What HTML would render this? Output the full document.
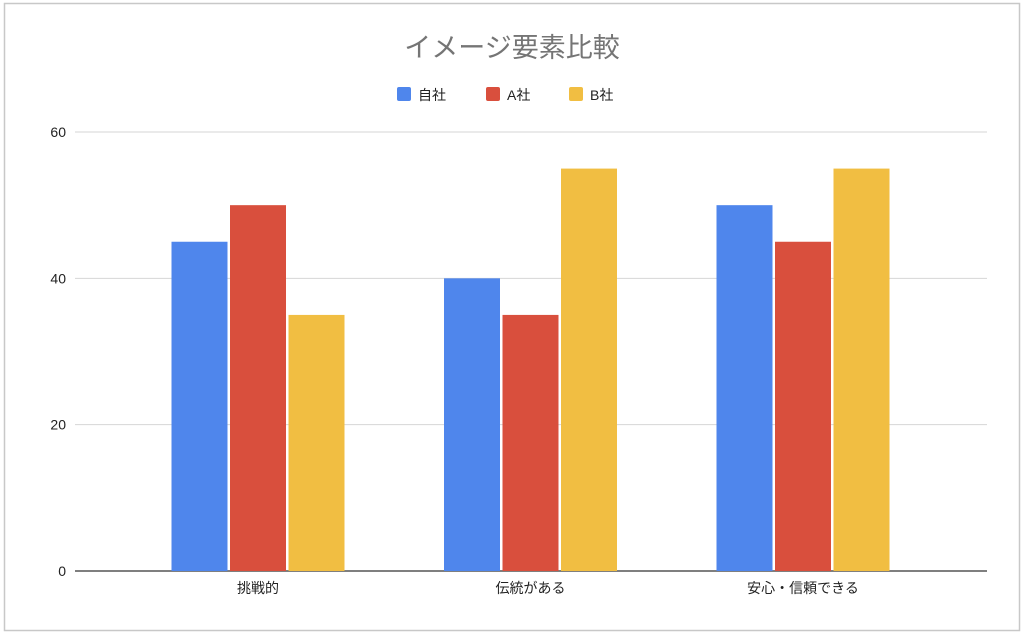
<!DOCTYPE html>
<html><head><meta charset="utf-8"><style>
html,body{margin:0;padding:0;background:#fff;}
svg{display:block;font-family:"Liberation Sans","Noto Sans CJK JP",sans-serif;}
</style></head><body>
<svg id="chart" width="1024" height="635" viewBox="0 0 1024 635">
<rect x="4.5" y="3.5" width="1015" height="627" fill="#fff" stroke="#c8c8c8" stroke-width="1.5"/>
<text x="512" y="57" text-anchor="middle" font-size="27" fill="#757575">イメージ要素比較</text>
<g id="legend"></g>
<g id="grid"></g>
<g id="bars"></g>
<g id="xlabels"></g>
</svg>
<script>
const categories = ["挑戦的", "伝統がある", "安心・信頼できる"];
const seriesNames = ["自社", "A社", "B社"];
const jisha = [45, 40, 50];
const aSha = [50, 35, 45];
const bSha = [35, 55, 55];
const yTicks = [0, 20, 40, 60];

const colors = ["#4f86ec", "#d94f3d", "#f1be42"];
const series = [jisha, aSha, bSha];
const NS = "http://www.w3.org/2000/svg";
const yMin = 0, yMax = 60, y0 = 571, y1 = 132;
const plotL = 75, plotR = 987;
function yScale(v){ return y0 - (v - yMin) / (yMax - yMin) * (y0 - y1); }
function xCenter(i){ return 258 + i * 272.5; }
const barW = 56, barStep = 58.5;
function mk(tag, attrs, parent){ const e = document.createElementNS(NS, tag); for (const k in attrs) e.setAttribute(k, attrs[k]); parent.appendChild(e); return e; }

const grid = document.getElementById('grid');
yTicks.forEach(t => {
  const y = yScale(t);
  const l = mk('line', {x1: plotL, x2: plotR, y1: y, y2: y, stroke: t === 0 ? '#333' : '#d6d6d6', 'stroke-width': t === 0 ? 1.3 : 1}, grid);
  
  
  const tx = mk('text', {x: 66, y: y + 5, 'text-anchor': 'end', 'font-size': 14, fill: '#222'}, grid);
  tx.textContent = t;
  
  
});

const bars = document.getElementById('bars');
categories.forEach((c, i) => {
  series.forEach((s, j) => {
    const x = xCenter(i) + (j - 1) * barStep - barW / 2;
    const y = yScale(s[i]);
    const r = mk('rect', {x: x, y: y, width: barW, height: yScale(0) - y, fill: colors[j]}, bars);
    
    
  });
});

const xl = document.getElementById('xlabels');
categories.forEach((c, i) => {
  const t = mk('text', {x: xCenter(i), y: 593, 'text-anchor': 'middle', 'font-size': 14, fill: '#222'}, xl);
  t.textContent = c;
  
  
});

const lg = document.getElementById('legend');
const lx = [397, 486, 569];
seriesNames.forEach((n, j) => {
  const g = mk('g', {}, lg);
  
  
  mk('rect', {x: lx[j], y: 87, width: 14, height: 14, rx: 2, fill: colors[j]}, g);
  const t = mk('text', {x: lx[j] + 21, y: 100, 'font-size': 14, fill: '#222'}, g);
  t.textContent = n;
});
</script>
</body></html>
